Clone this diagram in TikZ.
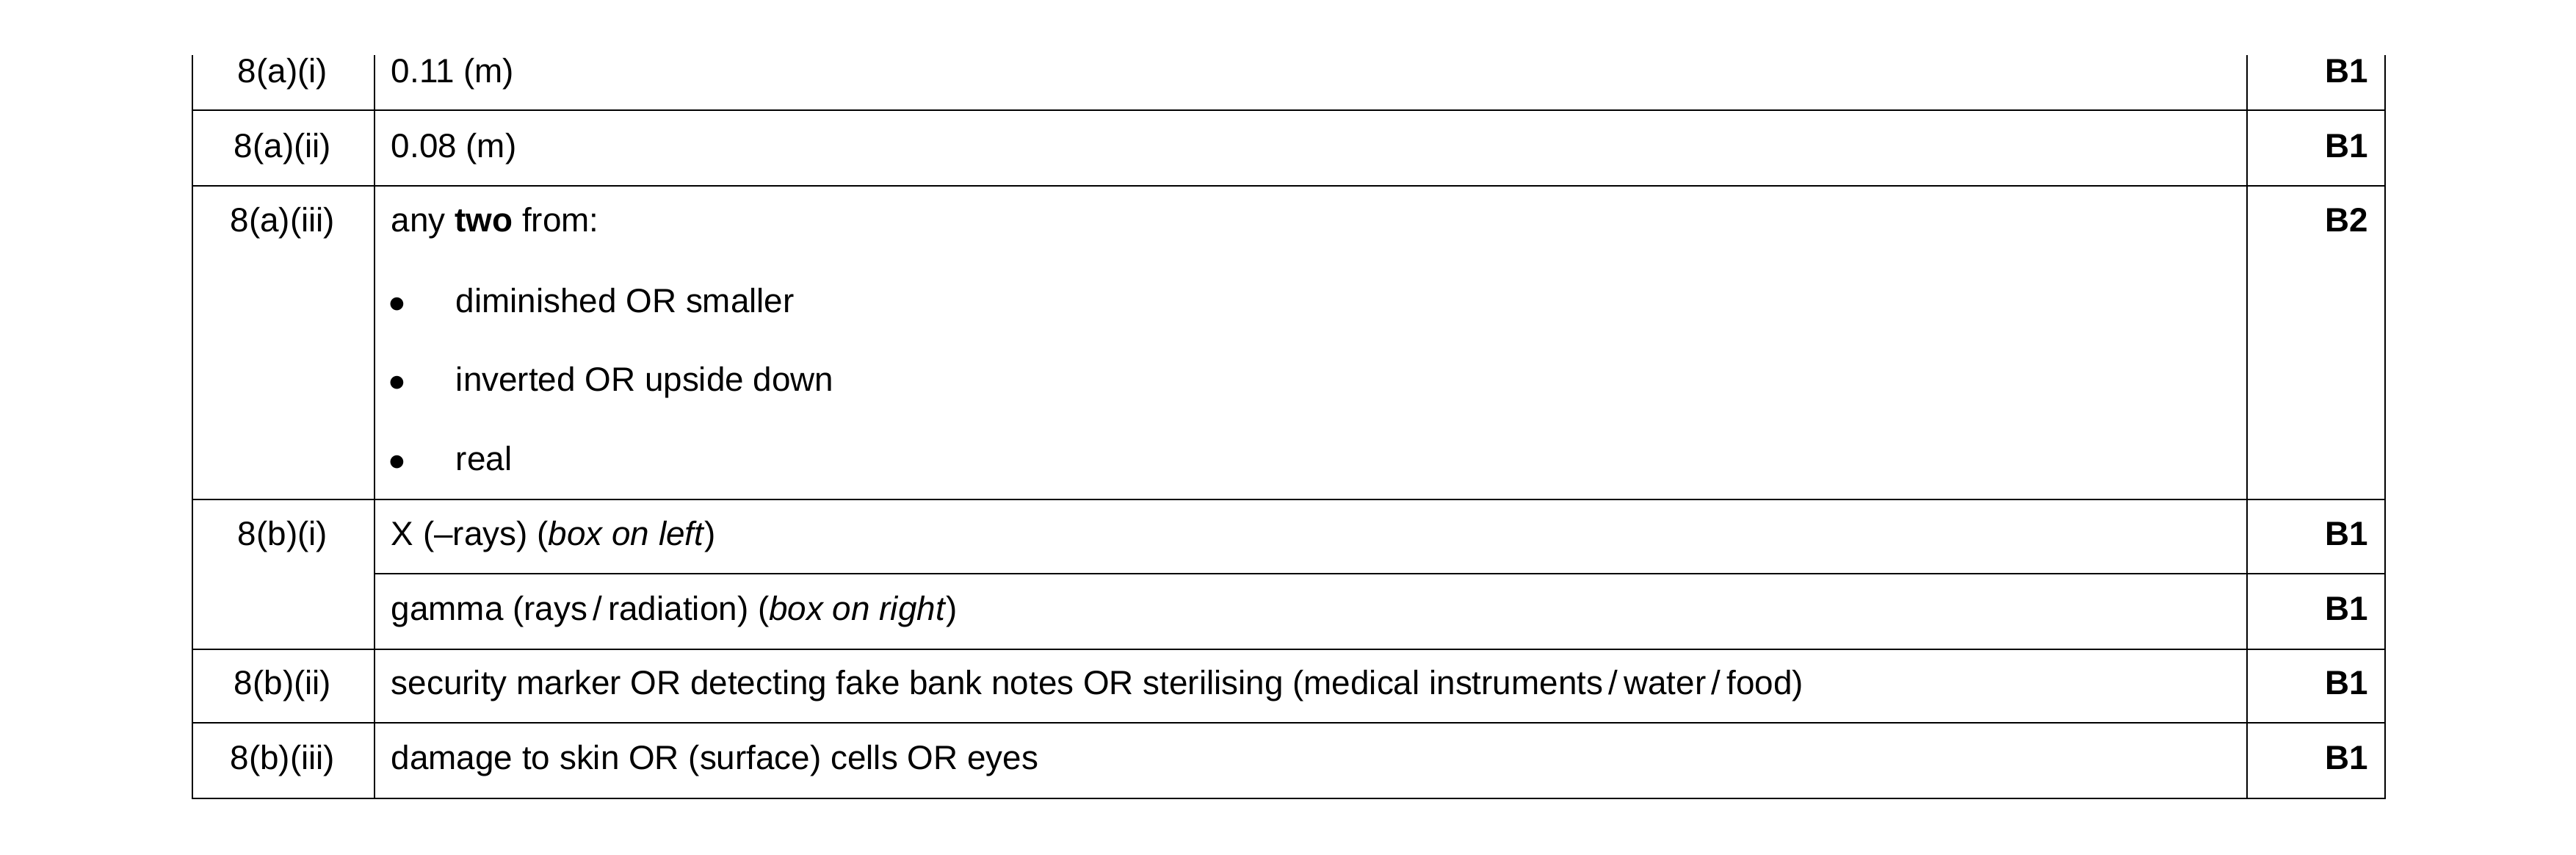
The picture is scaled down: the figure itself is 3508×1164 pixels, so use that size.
\documentclass[tikz,border=0pt]{standalone}
\usepackage{fontspec}
\setmainfont{Liberation Sans}
\usetikzlibrary{positioning}
\tikzset{
    grid/.style={line width=0.6pt, black},
    ref/.style={anchor=mid, font=\fontsize{11}{13}\selectfont},
    answer/.style={anchor=mid west, inner sep=0pt, font=\fontsize{11}{13}\selectfont},
    score/.style={anchor=mid east, inner sep=0pt, font=\fontsize{11}{13}\selectfont\bfseries},
    bullet/.style={anchor=mid, inner sep=0pt, font=\fontsize{11}{13}\selectfont}
}
\begin{document}
\begin{tikzpicture}[x=0.24pt, y=-0.24pt]
    \useasboundingbox (0,0) rectangle (3508,1164);
    % Grid lines
    \draw [grid] (262,75) -- (262,1087) -- (3248,1087) -- (3248,75);
    \draw [grid] (510,75) -- (510,1087);
    \draw [grid] (3060,75) -- (3060,1087);
    \foreach \y in {150,253,680,884,984}
        \draw [grid] (262,\y) -- (3248,\y);
    \draw [grid] (510,781) -- (3248,781);

    % Row 8(a)(i)
    \node (q1) [ref] at (385,102) {8(a)(i)};
    \node (a1) [answer] at (532,102) {0.11 (m)};
    \node (m1) [score] at (3226,102) {B1};

    % Row 8(a)(ii)
    \node (q2) [ref] at (385,204) {8(a)(ii)};
    \node (a2) [answer] at (532,204) {0.08 (m)};
    \node (m2) [score] at (3226,204) {B1};

    % Row 8(a)(iii)
    \node (q3) [ref] at (385,304) {8(a)(iii)};
    \node (a3) [answer] at (532,304) {any \textbf{two} from:};
    \node (m3) [score] at (3226,304) {B2};
    \foreach \y/\txt [count=\i] in {414/diminished OR smaller, 521/inverted OR upside down, 629/real} {
        \node (b\i) [bullet] at (541,\y) {$\bullet$};
        \node (t\i) [answer] at (620,\y) {\txt};
    }

    % Row 8(b)(i)
    \node (q4) [ref] at (385,731) {8(b)(i)};
    \node (a4) [answer] at (532,731) {X (–rays) (\textit{box on left})};
    \node (m4) [score] at (3226,731) {B1};
    \node (a5) [answer] at (532,833) {gamma (rays\,/\,radiation) (\textit{box on right})};
    \node (m5) [score] at (3226,833) {B1};

    % Row 8(b)(ii)
    \node (q6) [ref] at (385,934) {8(b)(ii)};
    \node (a6) [answer] at (532,934) {security marker OR detecting fake bank notes OR sterilising (medical instruments\,/\,water\,/\,food)};
    \node (m6) [score] at (3226,934) {B1};

    % Row 8(b)(iii)
    \node (q7) [ref] at (385,1036) {8(b)(iii)};
    \node (a7) [answer] at (532,1036) {damage to skin OR (surface) cells OR eyes};
    \node (m7) [score] at (3226,1036) {B1};
\end{tikzpicture}
\end{document}
